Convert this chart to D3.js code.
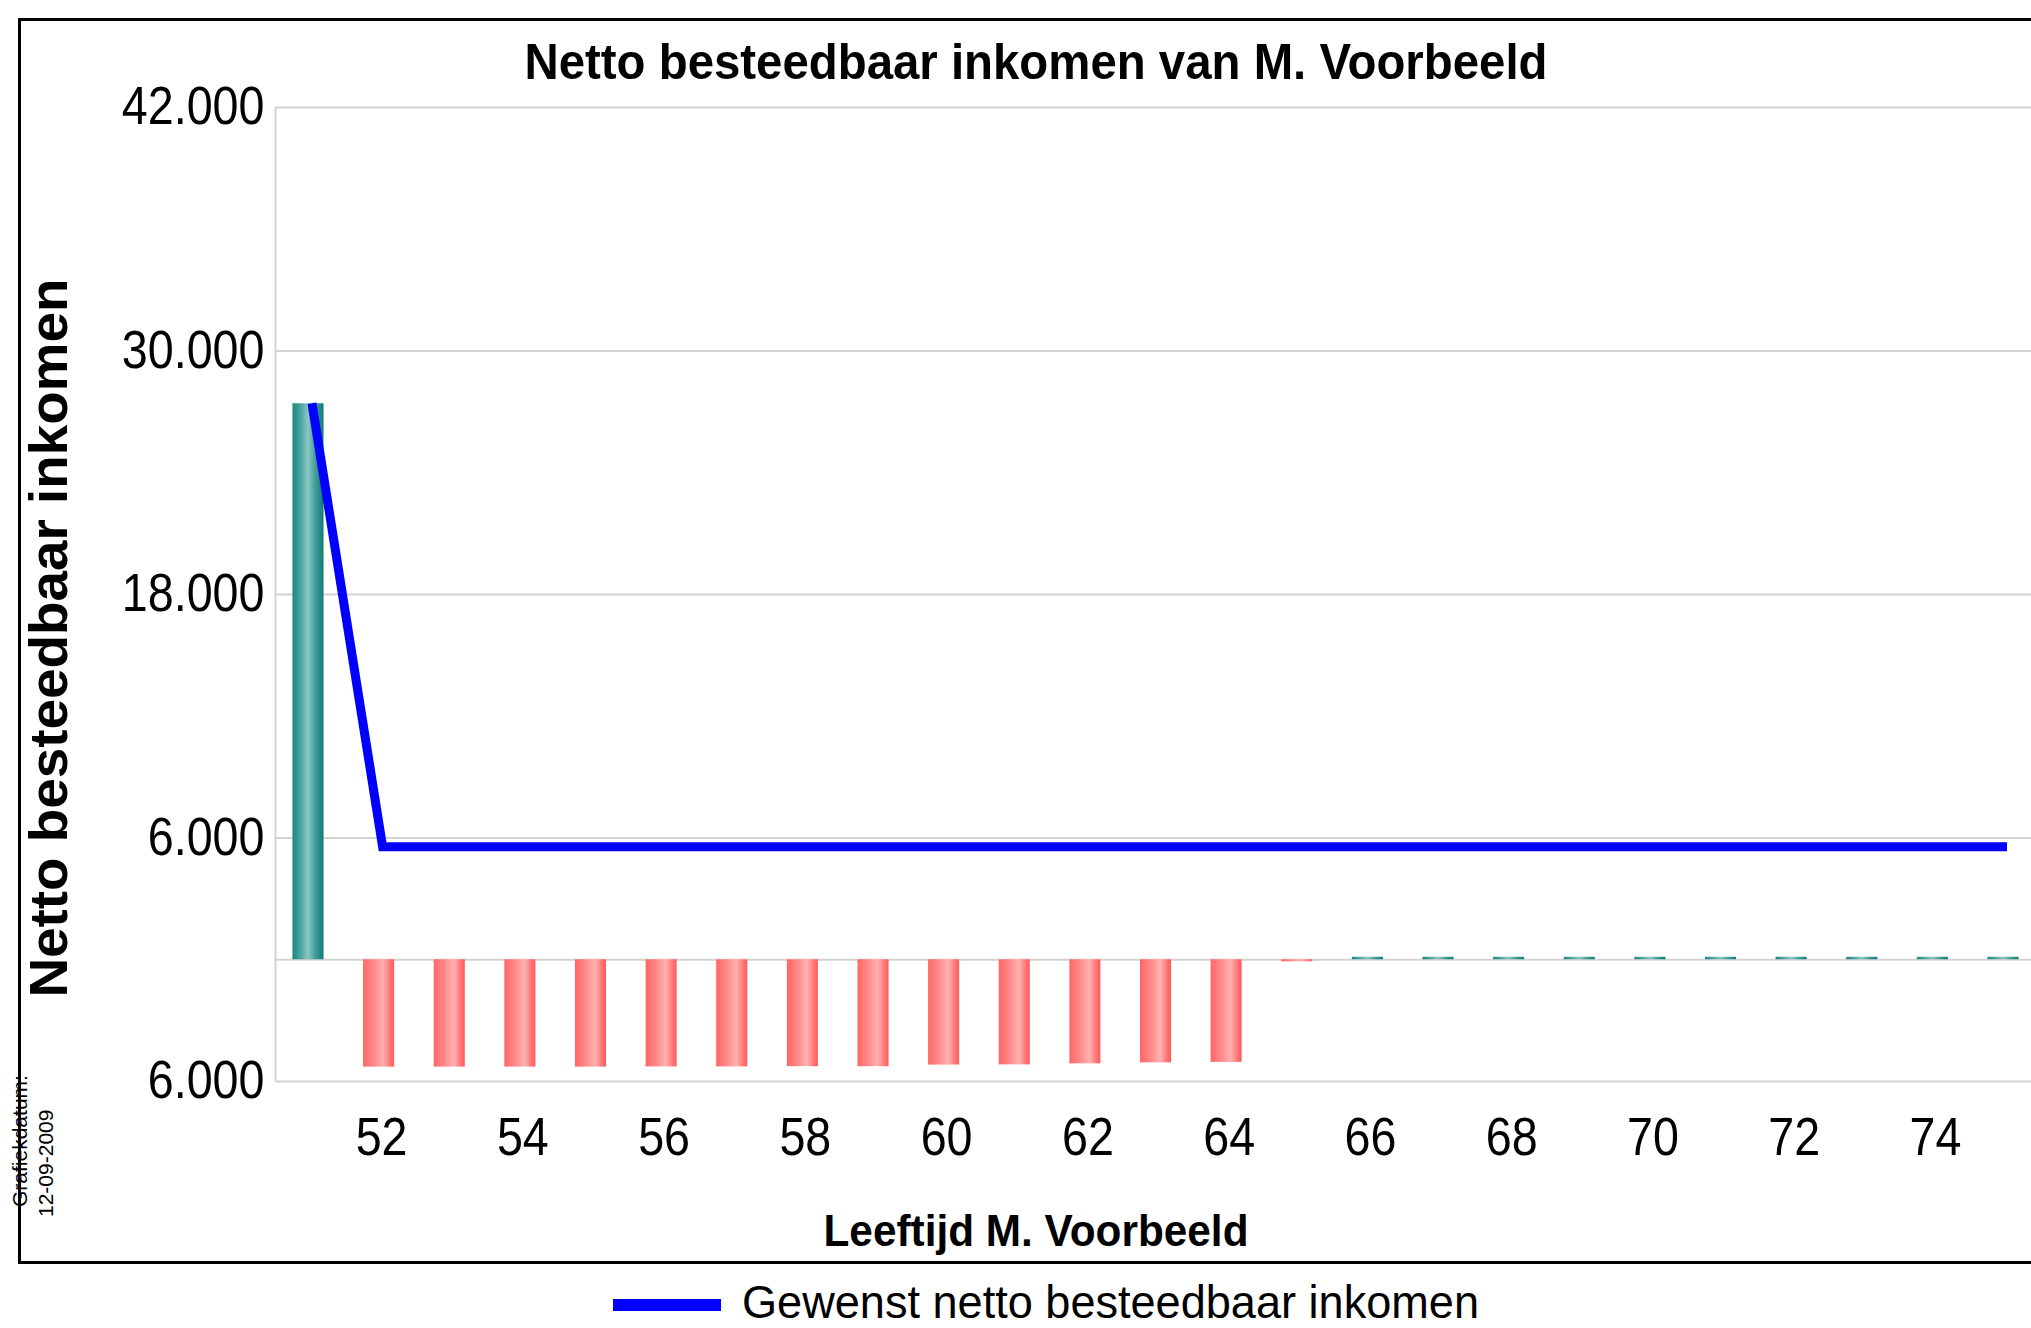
<!DOCTYPE html>
<html>
<head>
<meta charset="utf-8">
<script src="https://cdn.jsdelivr.net/npm/d3@7"></script>
<style>
  body { margin: 0; background: #ffffff; }
  text { font-family: "Liberation Sans", Arial, sans-serif; }
</style>
</head>
<body>
<div id="chart"></div>
<script>
// Ages on the x axis (one bar per year)
const ages = [51, 52, 53, 54, 55, 56, 57, 58, 59, 60, 61, 62, 63, 64, 65, 66, 67, 68, 69, 70, 71, 72, 73, 74, 75];

// Yearly balance (bars): positive = teal, negative = red
const saldo = [27400, -5290, -5290, -5290, -5290, -5280, -5280, -5270, -5270, -5190, -5180, -5130, -5080, -5060,
               -100, 120, 120, 120, 120, 120, 120, 120, 120, 120, 120];

// Desired net disposable income (blue line)
const gewenst = [27400, 5550, 5550, 5550, 5550, 5550, 5550, 5550, 5550, 5550, 5550, 5550, 5550, 5550,
                 5550, 5550, 5550, 5550, 5550, 5550, 5550, 5550, 5550, 5550, 5550];

// Tick values
const yTicks = [42000, 30000, 18000, 6000, -6000];
const yGrid = [42000, 30000, 18000, 6000, 0, -6000];
const xTicks = [52, 54, 56, 58, 60, 62, 64, 66, 68, 70, 72, 74];

const width = 2031, height = 1328;
const plot = {left: 275.5, right: 2035.5, top: 107, bottom: 1081};

var svg = d3.select("#chart").append("svg")
    .attr("width", width)
    .attr("height", height);

// Gradients for the cylinder-like bars
var defs = svg.append("defs");
function gradient(id, stops) {
    var g = defs.append("linearGradient").attr("id", id)
        .attr("x1", 0).attr("x2", 1).attr("y1", 0).attr("y2", 0);
    stops.forEach(s => g.append("stop").attr("offset", s[0]).attr("stop-color", s[1]));
}
gradient("tealGrad", [[0, "#1b8781"], [0.25, "#4aa39e"], [0.5, "#8ac6c2"], [0.75, "#3e9b96"], [1, "#0e7b75"]]);
gradient("redGrad", [[0, "#ff6666"], [0.35, "#ff8a8a"], [0.65, "#ffb2b2"], [0.85, "#ff7a7a"], [1, "#ff5a5a"]]);

// Scales
var x = d3.scaleBand()
    .domain(ages)
    .range([plot.left, plot.right])
    .paddingInner(0.56)
    .paddingOuter(0.24);

var y = d3.scaleLinear()
    .domain([-6000, 42000])
    .range([plot.bottom, plot.top]);

// Dutch number format, absolute values on the axis
const nl = d3.formatLocale({decimal: ",", thousands: ".", grouping: [3], currency: ["€", ""]});
const fmt = nl.format(",");

// Make glyphs a bit narrower like the original rendering
function squeeze(sel, k) {
    sel.each(function() {
        const len = this.getComputedTextLength();
        d3.select(this).attr("textLength", len * k).attr("lengthAdjust", "spacingAndGlyphs");
    });
}

// Grid lines
var grid = svg.append("g")
    .attr("transform", "translate(" + plot.left + ",0)")
    .call(d3.axisRight(y).tickValues(yGrid).tickSize(plot.right - plot.left).tickFormat(""));
grid.select(".domain").remove();
grid.selectAll("line").attr("stroke", "#d2d2d2").attr("stroke-width", 2);

// Left border of plot area
svg.append("line")
    .attr("x1", plot.left).attr("x2", plot.left)
    .attr("y1", plot.top).attr("y2", plot.bottom)
    .attr("stroke", "#d2d2d2").attr("stroke-width", 2);

// Y axis labels
var yAxis = svg.append("g")
    .attr("transform", "translate(" + plot.left + ",0)")
    .call(d3.axisLeft(y).tickValues(yTicks).tickSize(0).tickPadding(11).tickFormat(d => fmt(Math.abs(d))));
yAxis.select(".domain").remove();
yAxis.selectAll("text")
    .attr("font-size", 53)
    .attr("fill", "#000")
    .attr("font-family", "'Liberation Sans', Arial, sans-serif")
    .call(squeeze, 0.88);

// X axis labels
var xAxis = svg.append("g")
    .attr("transform", "translate(3," + plot.bottom + ")")
    .call(d3.axisBottom(x).tickValues(xTicks).tickSize(0).tickPadding(36));
xAxis.select(".domain").remove();
xAxis.selectAll("text")
    .attr("font-size", 53)
    .attr("fill", "#000")
    .attr("font-family", "'Liberation Sans', Arial, sans-serif")
    .call(squeeze, 0.88);

// Bars
svg.selectAll(".bar")
    .data(ages.map((a, i) => ({age: a, v: saldo[i]})))
    .enter().append("rect")
    .attr("class", "bar")
    .attr("x", d => x(d.age))
    .attr("width", x.bandwidth())
    .attr("y", d => y(Math.max(0, d.v)))
    .attr("height", d => Math.abs(y(d.v) - y(0)))
    .attr("fill", d => d.v >= 0 ? "url(#tealGrad)" : "url(#redGrad)");

// Desired income line (drawn slightly right of the bar centres, as in the original)
var line = d3.line()
    .x((d, i) => x(ages[i]) + x.bandwidth() / 2 + 4)
    .y(d => y(d));

svg.append("path")
    .datum(gewenst)
    .attr("d", line)
    .attr("fill", "none")
    .attr("stroke", "#0000ff")
    .attr("stroke-width", 9)
    .attr("stroke-linejoin", "miter");

// Title
svg.append("text")
    .attr("x", 1036).attr("y", 79)
    .attr("text-anchor", "middle")
    .attr("font-size", 50).attr("font-weight", "bold")
    .attr("textLength", 1023).attr("lengthAdjust", "spacingAndGlyphs")
    .text("Netto besteedbaar inkomen van M. Voorbeeld");

// Y axis title
svg.append("text")
    .attr("transform", "translate(67,638) rotate(-90)")
    .attr("text-anchor", "middle")
    .attr("font-size", 54).attr("font-weight", "bold")
    .attr("textLength", 719).attr("lengthAdjust", "spacingAndGlyphs")
    .text("Netto besteedbaar inkomen");

// X axis title
svg.append("text")
    .attr("x", 1036).attr("y", 1246)
    .attr("text-anchor", "middle")
    .attr("font-size", 45).attr("font-weight", "bold")
    .attr("textLength", 425).attr("lengthAdjust", "spacingAndGlyphs")
    .text("Leeftijd M. Voorbeeld");

// Chart date (small rotated text)
svg.append("text")
    .attr("transform", "translate(27,1207) rotate(-90)")
    .attr("font-size", 21)
    .text("Grafiekdatum:");
svg.append("text")
    .attr("transform", "translate(53,1217) rotate(-90)")
    .attr("font-size", 21)
    .text("12-09-2009");

// Outer frame
svg.append("rect")
    .attr("x", 19.5).attr("y", 19.5)
    .attr("width", width + 20).attr("height", 1243)
    .attr("fill", "none")
    .attr("stroke", "#000").attr("stroke-width", 3);

// Legend
svg.append("rect")
    .attr("x", 613).attr("y", 1299)
    .attr("width", 108).attr("height", 12)
    .attr("fill", "#0000ff");
svg.append("text")
    .attr("x", 742).attr("y", 1318)
    .attr("font-size", 46)
    .attr("textLength", 737).attr("lengthAdjust", "spacingAndGlyphs")
    .text("Gewenst netto besteedbaar inkomen");
</script>
</body>
</html>
